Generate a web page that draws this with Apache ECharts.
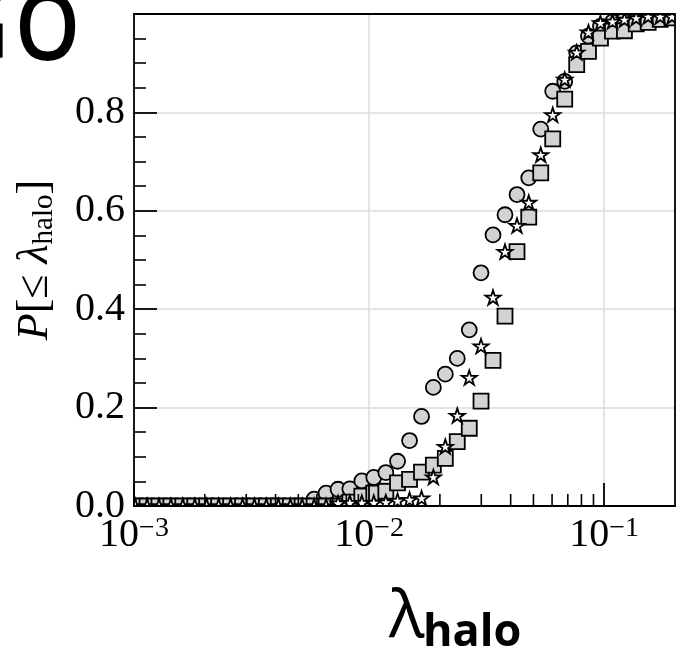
<!DOCTYPE html>
<html>
<head>
<meta charset="utf-8">
<script src="https://cdn.jsdelivr.net/npm/echarts@6/dist/echarts.min.js"></script>
<style>
html,body{margin:0;padding:0;background:#fff;}
#c{width:679px;height:655px;}
</style>
</head>
<body>
<div id="c"></div>
<script>
// ---- data ----
const xBins = [0.001012,0.001137,0.001277,0.001435,0.001613,0.001814,0.002037,0.002291,0.002576,0.002897,
  0.003251,0.003656,0.004111,0.004624,0.005188,0.005834,0.006561,0.007379,0.008279,0.009311,
  0.01047,0.01178,0.01321,0.01486,0.01671,0.01876,0.02109,0.02371,0.02667,0.02992,
  0.03365,0.03784,0.04256,0.04775,0.05370,0.06039,0.06792,0.07638,0.08570,0.09638,
  0.1084,0.1219,0.1368,0.1538,0.1730,0.1941];
const circleY = [0,0,0,0,0,0,0,0,0,0,
  0,0,0,0,0,0.014,0.026,0.034,0.035,0.051,
  0.058,0.068,0.091,0.133,0.182,0.241,0.268,0.300,0.358,0.474,
  0.551,0.592,0.633,0.667,0.766,0.843,0.863,0.921,0.955,0.975,
  0.984,0.989,0.993,0.996,0.998,1.0];
const squareY = [0,0,0,0,0,0,0,0,0,0,
  0,0,0,0,0,0,0,0,0.008,0.020,
  0.026,0.030,0.047,0.054,0.069,0.083,0.097,0.131,0.158,0.213,
  0.296,0.386,0.517,0.587,0.677,0.746,0.827,0.897,0.924,0.951,
  0.965,0.966,0.980,0.983,0.989,0.992];
const starY = [0,0,0,0,0,0,0,0,0,0,
  0,0,0,0,0,0,0,0.006,0.007,0.007,
  0.007,0.008,0.011,0.013,0.016,0.059,0.121,0.184,0.261,0.325,
  0.424,0.517,0.570,0.617,0.714,0.795,0.867,0.922,0.963,0.982,
  0.985,0.989,0.992,0.995,0.995,0.995];
const xMinorTicks = [0.002,0.003,0.004,0.005,0.006,0.007,0.008,0.009,
  0.02,0.03,0.04,0.05,0.06,0.07,0.08,0.09];
const yTickValues = [0, 0.2, 0.4, 0.6, 0.8];

// ---- layout ----
const W = 679, H = 655;
const GL = 134, GT = 14, GR = 4, GB = 149;
const SERIF = "'Liberation Serif', 'DejaVu Serif', serif";
const SANS = "'Open Sans', 'Noto Sans', sans-serif";

const chart = echarts.init(document.getElementById('c'), null, {renderer: 'canvas'});
const starPath = 'path://M100 0 L122.45 69.1 L195.11 69.1 L136.33 111.8 L158.78 180.9 L100 138.2 L41.22 180.9 L63.67 111.8 L4.89 69.1 L77.55 69.1 Z';

function pairs(ys){ return xBins.map((x,i)=>[x, ys[i]]); }

const xMain = {
  type: 'log', logBase: 10, min: 0.001, max: 0.2, gridIndex: 0, position: 'bottom', z: 10,
  axisLine: {show: true, onZero: false, lineStyle: {color: '#000', width: 1.8}},
  axisTick: {show: true, inside: true, length: 23, lineStyle: {color: '#000', width: 1.8}},
  axisLabel: {
    show: true, margin: 9, showMaxLabel: false,
    formatter: function(v){
      const e = Math.log10(v);
      if (Math.abs(e - Math.round(e)) > 1e-6) return '';
      return '{b|10}{s|\u2212' + Math.abs(Math.round(e)) + '}';
    },
    rich: {
      b: {fontFamily: SERIF, fontSize: 40, color: '#000', lineHeight: 40},
      s: {fontFamily: SERIF, fontSize: 28, color: '#000', lineHeight: 24, verticalAlign: 'top'}
    }
  },
  splitLine: {show: false}
};
const xTop = {
  type: 'log', logBase: 10, min: 0.001, max: 0.2, gridIndex: 0, position: 'top', z: 10,
  axisLine: {show: true, onZero: false, lineStyle: {color: '#000', width: 1.8}},
  axisTick: {show: false}, axisLabel: {show: false}, splitLine: {show: false}
};
const xGrid = {
  type: 'log', logBase: 10, min: 0.001, max: 0.2, gridIndex: 0, position: 'bottom', z: 0,
  axisLine: {show: false}, axisTick: {show: false}, axisLabel: {show: false},
  splitLine: {show: true, lineStyle: {color: '#dcdcdc', width: 1.5}}
};
const yMain = {
  type: 'value', min: 0, max: 1, interval: 0.2, position: 'left', z: 10,
  axisLine: {show: true, onZero: false, lineStyle: {color: '#000', width: 1.8}},
  axisTick: {show: true, inside: true, length: 23, lineStyle: {color: '#000', width: 1.8}},
  minorTick: {show: true, splitNumber: 4, length: 12, lineStyle: {color: '#000', width: 1.6}},
  axisLabel: {
    show: true, margin: 9, showMaxLabel: false,
    fontFamily: SERIF, fontSize: 40, color: '#000',
    formatter: function(v){ return yTickValues.indexOf(Math.round(v*10)/10) >= 0 ? v.toFixed(1) : ''; }
  },
  splitLine: {show: false},
  name: '{it|P}[\u2264 {it|\u03bb}{sub|halo}]',
  nameLocation: 'middle', nameGap: 75,
  nameTextStyle: {
    fontFamily: SERIF, fontSize: 44, color: '#000', lineHeight: 48,
    rich: {
      it: {fontFamily: SERIF, fontSize: 44, fontStyle: 'italic', color: '#000', lineHeight: 48},
      sub: {fontFamily: SERIF, fontSize: 29, color: '#000', lineHeight: 20, verticalAlign: 'bottom'}
    }
  }
};
const yRight = {
  type: 'value', min: 0, max: 1, interval: 0.2, position: 'right', z: 10,
  axisLine: {show: true, onZero: false, lineStyle: {color: '#000', width: 1.8}},
  axisTick: {show: false}, axisLabel: {show: false}, splitLine: {show: false}
};
const yGrid = {
  type: 'value', min: 0, max: 1, interval: 0.2, position: 'left', z: 0,
  axisLine: {show: false}, axisTick: {show: false}, axisLabel: {show: false},
  splitLine: {show: true, lineStyle: {color: '#dcdcdc', width: 1.5}}
};

const markerStyle = (fill) => ({color: fill, borderColor: '#000', borderWidth: 1.8, opacity: 1});

chart.setOption({
  animation: false,
  backgroundColor: '#fff',
  grid: {left: GL, top: GT, right: GR, bottom: GB, containLabel: false},
  xAxis: [xMain, xTop, xGrid],
  yAxis: [yMain, yRight, yGrid],
  series: [
    {type: 'scatter', name: 'circles', data: pairs(circleY), symbol: 'circle', symbolSize: 15,
     itemStyle: markerStyle('#d3d3d3'), z: 2, clip: false},
    {type: 'scatter', name: 'squares', data: pairs(squareY), symbol: 'rect', symbolSize: 15,
     itemStyle: markerStyle('#d3d3d3'), z: 2, clip: false},
    {type: 'scatter', name: 'stars', data: pairs(starY), symbol: starPath, symbolKeepAspect: true, symbolSize: 15,
     itemStyle: markerStyle('#ffffff'), z: 2, clip: false},
    {type: 'custom', name: 'xminor', z: 11, silent: true, clip: false,
     data: xMinorTicks.map(v => [v, 0]),
     renderItem: function(params, api){
       const p = api.coord([api.value(0), 0]);
       return {type: 'line', shape: {x1: p[0], y1: p[1], x2: p[0], y2: p[1] - 12},
               style: {stroke: '#000', lineWidth: 1.6}};
     }}
  ],
  graphic: [
    // mask marker overflow outside plot area (like matplotlib clipping)
    {type: 'rect', z: 5, silent: true, shape: {x: 90, y: H - GB + 0.5, width: W - 90, height: 22}, style: {fill: '#fff'}},
    {type: 'rect', z: 5, silent: true, shape: {x: 90, y: 470, width: GL - 90 - 0.5, height: 60}, style: {fill: '#fff'}},
    {type: 'rect', z: 5, silent: true, shape: {x: GL - 10, y: 0, width: W - GL + 10, height: GT - 0.5}, style: {fill: '#fff'}},
    {type: 'rect', z: 5, silent: true, shape: {x: W - GR + 0.5, y: 0, width: GR, height: H - GB + 20}, style: {fill: '#fff'}},
    // corner title (partly cut off at the left edge)
    {type: 'text', z: 20, silent: true, x: 9, y: 33, scaleX: 0.88, scaleY: 1,
     style: {text: 'G', x: 0, y: 0, align: 'right', verticalAlign: 'middle',
             fontFamily: SANS, fontWeight: 600, fontSize: 94, fill: '#000'}},
    {type: 'text', z: 20, silent: true, x: 80, y: 33, scaleX: 0.88, scaleY: 1,
     style: {text: 'O', x: 0, y: 0, align: 'right', verticalAlign: 'middle',
             fontFamily: SANS, fontWeight: 600, fontSize: 94, fill: '#000'}},
    // x title
    {type: 'text', z: 20, silent: true,
     style: {text: '\u03bb', x: 389, y: 618, align: 'left', verticalAlign: 'middle',
             fontFamily: SANS, fontSize: 66, fill: '#000'}},
    {type: 'text', z: 20, silent: true,
     style: {text: 'halo', x: 423, y: 633, align: 'left', verticalAlign: 'middle',
             fontFamily: SANS, fontWeight: 'bold', fontSize: 45, fill: '#000'}}
  ]
});
</script>
</body>
</html>
